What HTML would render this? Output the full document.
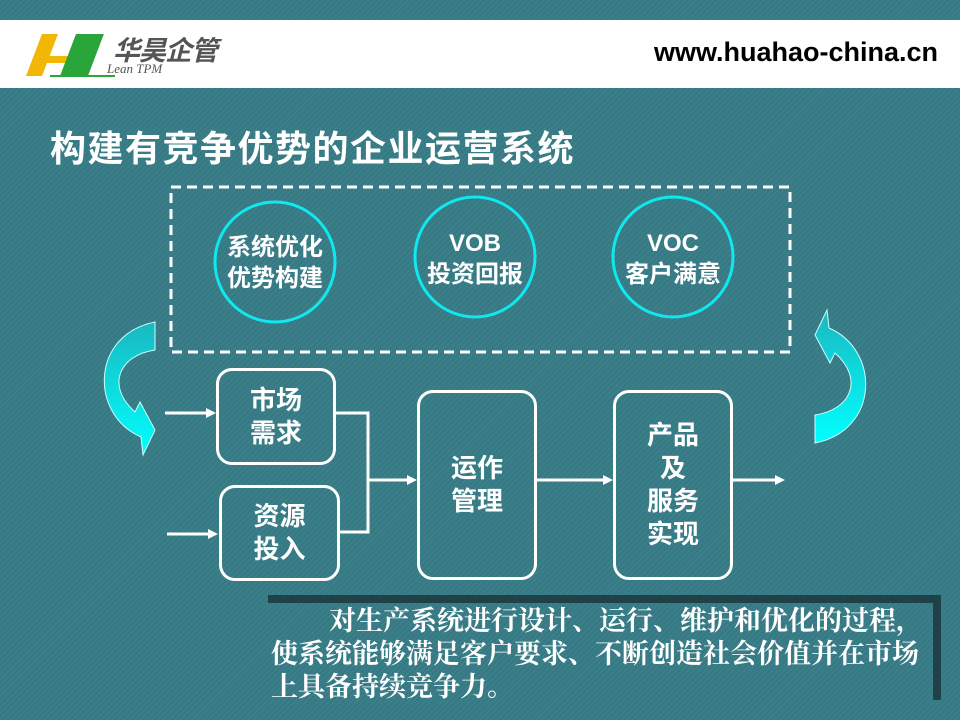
<!DOCTYPE html>
<html><head><meta charset="utf-8"><style>
body{margin:0;width:960px;height:720px;overflow:hidden;font-family:"Liberation Sans","Noto Sans CJK SC",sans-serif;}
.bg{position:absolute;left:0;top:0;width:960px;height:720px;background:#367a85;
background-image:repeating-linear-gradient(135deg,rgba(255,255,255,0.05) 0 1px,transparent 1px 4px);}
.hdr{position:absolute;left:0;top:20px;width:960px;height:68px;background:#fff;}
.t{position:absolute;color:#fff;font-weight:bold;}
.box{position:absolute;border:3px solid #fff;border-radius:16px;box-sizing:border-box;color:#fff;font-weight:bold;font-size:26px;line-height:33px;display:flex;align-items:center;justify-content:center;text-align:center;}
</style></head><body>
<div class="bg"></div>
<div class="hdr"></div>
<svg style="position:absolute;left:0;top:0" width="960" height="720">
<polygon points="26,76 42,34 58,34 42,76" fill="#f2b705"/>
<polygon points="48,56 76,56 73,63 45,63" fill="#f2b705"/>
<polygon points="60,76 76,34 104,34 88,76" fill="#2aa53a"/>
<polygon points="88,76 104,34 108,34 92,76" fill="#fff"/>
<line x1="50" y1="76" x2="115" y2="76" stroke="#2aa53a" stroke-width="2"/>
<rect x="171" y="187" width="619" height="165" fill="none" stroke="#fff" stroke-width="3" stroke-dasharray="10,6"/>
<circle cx="275" cy="262" r="60" fill="none" stroke="#10e8f0" stroke-width="3"/>
<circle cx="475" cy="257" r="60" fill="none" stroke="#10e8f0" stroke-width="3"/>
<circle cx="673" cy="257" r="60" fill="none" stroke="#10e8f0" stroke-width="3"/>
<g stroke="#fff" stroke-width="3" fill="none">
<line x1="165" y1="413" x2="208" y2="413"/>
<line x1="167" y1="534" x2="210" y2="534"/>
<polyline points="336,413 368,413 368,532 340,532"/>
<line x1="368" y1="480" x2="409" y2="480"/>
<line x1="537" y1="480" x2="605" y2="480"/>
<line x1="733" y1="480" x2="777" y2="480"/>
</g>
<g fill="#fff">
<polygon points="216,413 206,408 206,418"/>
<polygon points="218,534 208,529 208,539"/>
<polygon points="417,480 407,475 407,485"/>
<polygon points="613,480 603,475 603,485"/>
<polygon points="785,480 775,475 775,485"/>
</g>
<defs><linearGradient id="g" x1="0" y1="0" x2="0" y2="1"><stop offset="0" stop-color="#1ab8c0"/><stop offset="1" stop-color="#0ff"/></linearGradient></defs>
<path d="M155,322 L155,350 C120,355 105,385 135,412 L140,402 L155,430 L143,455 L141,437 C90,415 90,335 155,322 Z" fill="url(#g)" stroke="#cff" stroke-width="1"/>
<path d="M815,443 L815,415 C850,410 865,380 835,353 L830,363 L815,335 L827,310 L829,328 C880,350 880,430 815,443 Z" fill="url(#g)" stroke="#cff" stroke-width="1"/>
<rect x="268" y="595" width="673" height="8" fill="#1f4249"/>
<rect x="933" y="595" width="8" height="105" fill="#1f4249"/>
</svg>
<div style="position:absolute;left:113px;top:29px;font-size:27px;color:#555;font-style:italic;font-weight:bold;letter-spacing:-1px">华昊企管</div>
<div style="position:absolute;left:107px;top:61px;font-size:13px;color:#555;font-family:'Liberation Serif',serif;font-style:italic">Lean TPM</div>
<div style="position:absolute;left:654px;top:37px;font-size:27px;font-weight:bold;color:#000">www.huahao-china.cn</div>
<div class="t" style="left:50px;top:120px;font-size:36px;letter-spacing:1.5px">构建有竞争优势的企业运营系统</div>
<div class="t" style="left:205px;top:232px;width:140px;text-align:center;font-size:24px;line-height:31px">系统优化<br>优势构建</div>
<div class="t" style="left:405px;top:228px;width:140px;text-align:center;font-size:24px;line-height:31px">VOB<br>投资回报</div>
<div class="t" style="left:603px;top:228px;width:140px;text-align:center;font-size:24px;line-height:31px">VOC<br>客户满意</div>
<div class="box" style="left:216px;top:368px;width:120px;height:97px">市场<br>需求</div>
<div class="box" style="left:219px;top:485px;width:121px;height:96px">资源<br>投入</div>
<div class="box" style="left:417px;top:390px;width:120px;height:190px">运作<br>管理</div>
<div class="box" style="left:613px;top:390px;width:120px;height:190px">产品<br>及<br>服务<br>实现</div>
<div style="position:absolute;left:271px;top:605px;width:670px;color:#fff;font-size:27px;line-height:33px;font-family:'Liberation Serif','Noto Serif CJK SC',serif;font-weight:bold;white-space:nowrap">
<div style="text-indent:58px">对生产系统进行设计、运行、维护和优化的过程，</div>
<div>使系统能够满足客户要求、不断创造社会价值并在市场</div>
<div>上具备持续竞争力。</div></div>
</body></html>
